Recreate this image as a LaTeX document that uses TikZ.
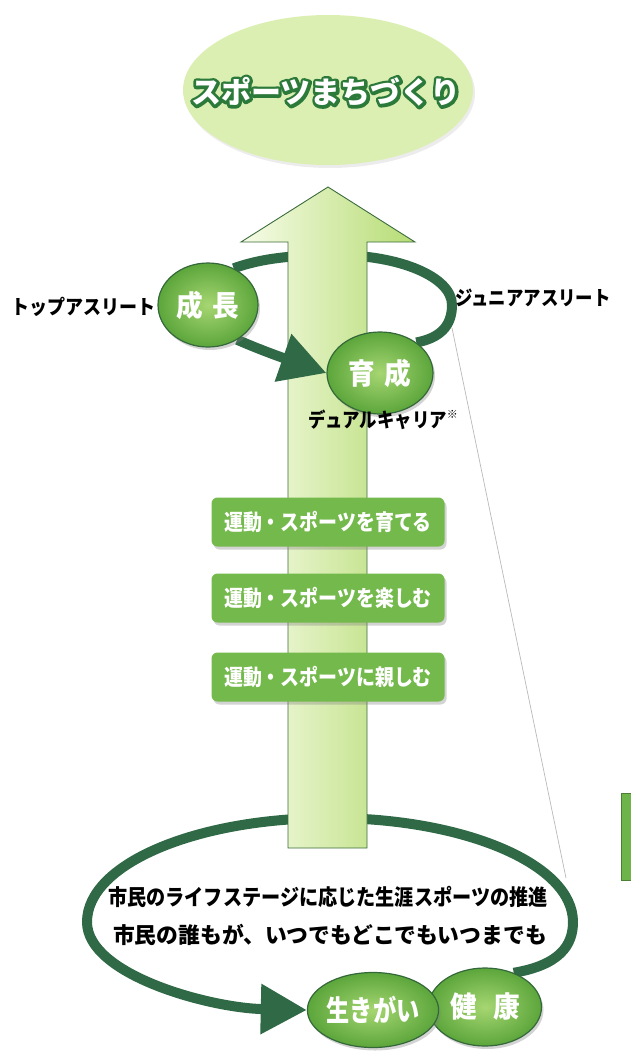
\documentclass[tikz,border=0pt]{standalone}
\usepackage{fontspec}
\usepackage{graphicx}
\newfontfamily\jp{Noto Sans CJK JP}
\usetikzlibrary{shadows,arrows.meta,shapes.geometric}
\definecolor{titlebg}{HTML}{DCEFB2}
\definecolor{titleline}{HTML}{2C7A3A}
\definecolor{arrL}{HTML}{F7FCE8}
\definecolor{arrR}{HTML}{B6DC74}
\definecolor{arrB}{HTML}{3C6B3C}
\definecolor{ring}{HTML}{2F6946}
\definecolor{cin}{HTML}{A6D672}
\definecolor{cout}{HTML}{5CA63B}
\definecolor{cborder}{HTML}{34683A}
\definecolor{boxg}{HTML}{74B94C}
\definecolor{barg}{HTML}{6DB54A}
% outlined text: a stroked copy (text render mode 2) under the white text
\newcommand\outlined[3]{%
  \leavevmode\rlap{\color{#1}\special{pdf:literal direct 2 Tr #2 w 1 j 1 J}#3\special{pdf:literal direct 0 Tr}}#3}
\pgfdeclarelayer{back}
\pgfdeclarelayer{shaft}
\pgfdeclarelayer{conn}
\pgfsetlayers{back,shaft,conn,main}
\tikzset{
  circ/.style={ellipse, draw=cborder, line width=1.2pt, inner color=cin, outer color=cout,
    text=white, font=\jp\bfseries\fontsize{29pt}{30pt}\selectfont, inner sep=0pt,
    drop shadow={opacity=0.35, shadow xshift=2pt, shadow yshift=-3pt}},
  gbox/.style={rounded corners=6pt, fill=boxg, minimum width=233pt, minimum height=49pt,
    text=white, font=\jp\bfseries\fontsize{22pt}{24pt}\selectfont,
    drop shadow={opacity=0.35, shadow xshift=2pt, shadow yshift=-3pt}},
  lbl/.style={text=black, font=\jp\bfseries\fontsize{20pt}{22pt}\selectfont, inner sep=0pt},
  ringline/.style={draw=ring, line width=10pt},
  bighead/.style={-{Triangle[length=46pt,width=48pt]}}
}
\begin{document}
\begin{tikzpicture}[x=1pt,y=-1pt]
\useasboundingbox (0,0) rectangle (630,1053);
% nodes
\node[ellipse, fill=titlebg, minimum width=290pt, minimum height=150pt,
  drop shadow={opacity=0.15, shadow xshift=2pt, shadow yshift=-3pt}] (titlebg) at (328,90) {};
\node[text=white, font=\jp\bfseries\fontsize{30pt}{32pt}\selectfont] (title) at (326,92)
  {\outlined{titleline}{6}{スポーツまちづくり}};

\node[circ, minimum width=100pt, minimum height=84pt] (seicho) at (208,305) {\scalebox{0.92}[1]{成\hspace{0.35em}長}};
\node[circ, minimum width=106pt, minimum height=82pt] (ikusei) at (380,373) {\scalebox{0.92}[1]{育\hspace{0.35em}成}};
\node[circ, minimum width=113pt, minimum height=78pt] (kenko) at (485,1007) {\scalebox{0.92}[1]{健\hspace{0.6em}康}};
\node[circ, minimum width=114pt, minimum height=75pt] (ikigai) at (373,1010) {\scalebox{0.8}[1]{生きがい}};

\node[gbox] (box1) at (328,522) {\scalebox{0.86}[1]{運動・スポーツを育てる}};
\node[gbox] (box2) at (328,598) {\scalebox{0.86}[1]{運動・スポーツを楽しむ}};
\node[gbox] (box3) at (328,677) {\scalebox{0.86}[1]{運動・スポーツに親しむ}};

\node[lbl] (top) at (83,307) {\scalebox{0.9}[1]{トップアスリート}};
\node[lbl] (junior) at (533,298) {\scalebox{0.87}[1]{ジュニアアスリート}};
\node[lbl] (dual) at (383,420) {\scalebox{0.87}[1]{デュアルキャリア}\raisebox{0.45em}{\fontsize{11pt}{11pt}\selectfont ※}};

\node[text=black, font=\jp\bfseries\fontsize{22pt}{24pt}\selectfont, inner sep=0pt] (line1) at (328,897)
  {\scalebox{0.87}[1]{市民のライフステージに応じた生涯スポーツの推進}};
\node[text=black, font=\jp\bfseries\fontsize{22pt}{24pt}\selectfont, inner sep=0pt] (line2) at (330,935)
  {\scalebox{0.99}[1]{市民の誰もが、いつでもどこでもいつまでも}};

\coordinate (calA) at (452,328);
\coordinate (calB) at (566,878);

\begin{pgfonlayer}{back}
  \draw[ringline] (seicho.55) .. controls (262,258) and (295,255) .. (335,255)
     .. controls (400,255) and (452,277) .. (452,305)
     .. controls (452,326) and (440,338) .. (ikusei.40);
  \draw[ringline, bighead] (kenko.50) .. controls (560,965) and (573,945) .. (573,922)
     .. controls (573,864) and (464,818) .. (330,818)
     .. controls (196,818) and (87,864) .. (87,922)
     .. controls (87,975) and (210,1008) .. (ikigai.west);
  \draw[gray!55, line width=0.7pt] (calA) -- (calB);
\end{pgfonlayer}

\begin{pgfonlayer}{shaft}
  \shadedraw[left color=arrL, right color=arrR, draw=arrB, line width=0.9pt]
    (288,848) -- (288,242) -- (241,242) -- (328,187) -- (415,242) -- (367,242) -- (367,848) -- cycle;
\end{pgfonlayer}

\begin{pgfonlayer}{conn}
  \draw[ringline, bighead] (seicho.-50) .. controls (265,352) and (295,362) .. (ikusei.west);
\end{pgfonlayer}

\fill[barg, draw=barg!70!black, line width=0.8pt] (621,793) rectangle (632,880);
\end{tikzpicture}
\end{document}
